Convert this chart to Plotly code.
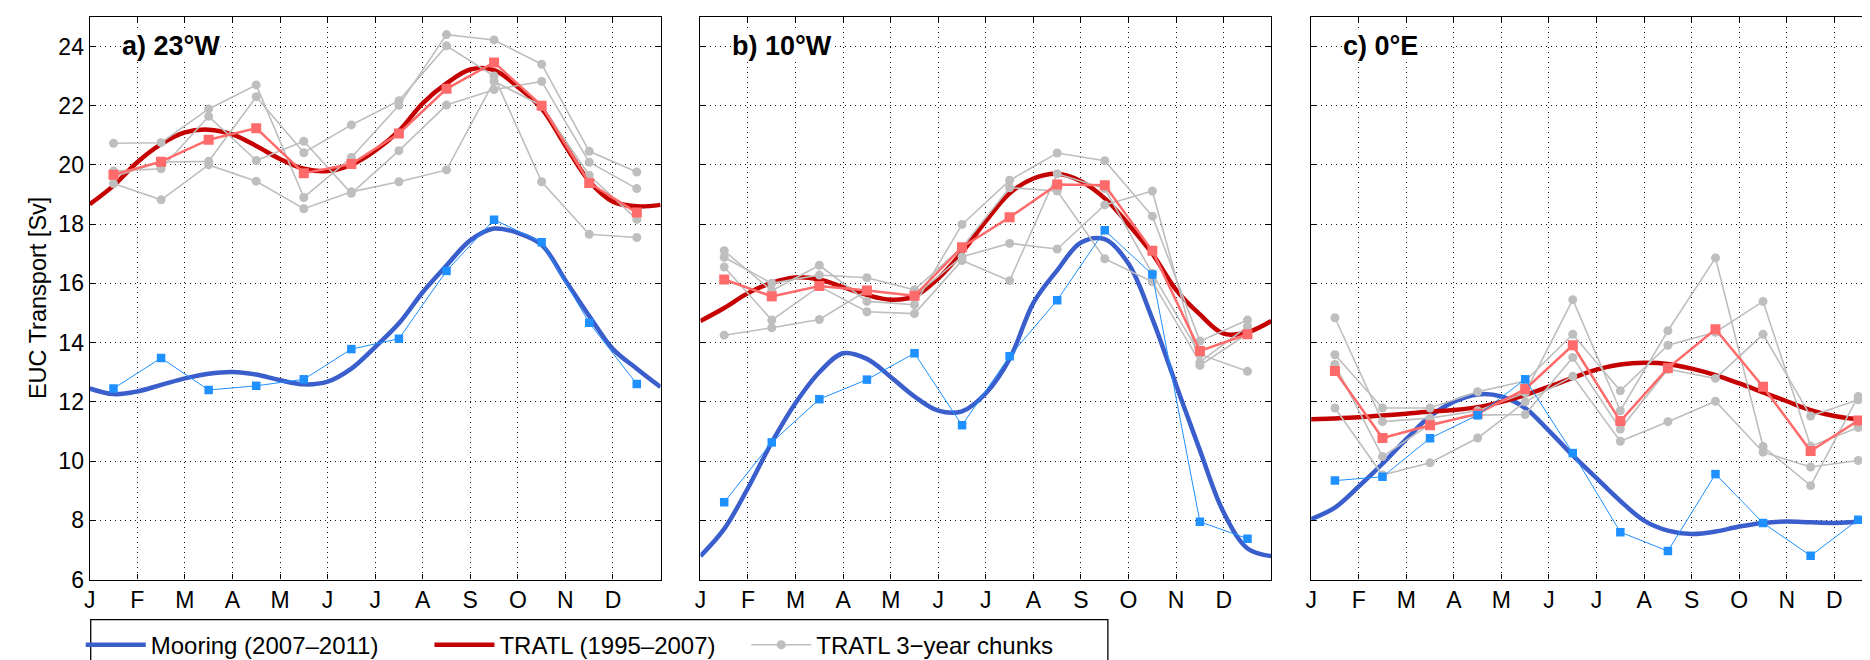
import plotly.graph_objects as go

# ---------------- data ----------------
month_labels = ["J", "F", "M", "A", "M", "J", "J", "A", "S", "O", "N", "D"]
month_ticks = list(range(12))
mid_month = [i + 0.5 for i in range(12)]
fit_time = [i * 0.5 for i in range(25)]

panel_titles = ["a) 23°W", "b) 10°W", "c) 0°E"]

# Panel a (23W)
a_mooring = [12.45, 13.48, 12.40, 12.54, 12.76, 13.78, 14.13, 16.42, 18.15, 17.39, 14.67, 12.60]
a_tratl = [19.67, 20.11, 20.85, 21.24, 19.72, 20.03, 21.06, 22.57, 23.46, 22.00, 19.39, 18.39]
a_mooring_fit = [12.45, 12.26, 12.35, 12.57, 12.79, 12.95, 13.01, 12.92, 12.73, 12.59, 12.68, 13.12,
                 13.85, 14.65, 15.70, 16.60, 17.45, 17.85, 17.70, 17.30, 16.10, 14.90, 13.78, 13.12, 12.50]
a_tratl_fit = [18.67, 19.30, 20.09, 20.70, 21.10, 21.19, 21.03, 20.64, 20.20, 19.87, 19.79, 20.00,
               20.48, 21.15, 22.08, 22.75, 23.22, 23.20, 22.63, 21.90, 20.65, 19.45, 18.76, 18.60, 18.65]
a_chunk1 = [20.73, 20.75, 21.89, 22.70, 18.90, 20.25, 22.01, 24.40, 24.22, 23.40, 20.46, 19.76]
a_chunk2 = [19.79, 19.87, 21.64, 20.15, 20.80, 19.04, 20.48, 22.02, 22.54, 22.82, 20.09, 19.20]
a_chunk3 = [19.37, 18.82, 20.00, 19.45, 18.52, 19.09, 19.43, 19.83, 22.82, 22.00, 19.65, 18.16]
a_chunk4 = [19.60, 20.10, 20.12, 22.30, 20.41, 21.35, 22.17, 24.02, 23.00, 19.43, 17.66, 17.55]

# Panel b (10W)
b_mooring = [8.61, 10.63, 12.09, 12.75, 13.64, 11.21, 13.54, 15.43, 17.79, 16.30, 7.95, 7.38]
b_tratl = [16.13, 15.56, 15.91, 15.76, 15.58, 17.22, 18.23, 19.34, 19.31, 17.10, 13.72, 14.28]
b_mooring_fit = [6.79, 7.71, 9.09, 10.63, 11.96, 13.00, 13.64, 13.45, 12.84, 12.18, 11.70, 11.68,
                 12.29, 13.45, 15.34, 16.44, 17.38, 17.49, 16.66, 14.80, 12.57, 10.36, 8.26, 7.05, 6.79]
b_tratl_fit = [14.73, 15.17, 15.67, 16.02, 16.20, 16.13, 15.87, 15.61, 15.45, 15.56, 16.17, 17.05,
               18.10, 19.04, 19.54, 19.70, 19.45, 18.87, 17.99, 17.00, 15.78, 14.95, 14.30, 14.35, 14.73]
b_chunk1 = [17.10, 15.75, 16.61, 15.39, 15.28, 17.99, 19.48, 20.40, 20.14, 18.27, 14.05, 14.76]
b_chunk2 = [16.88, 16.00, 16.28, 16.19, 15.78, 17.22, 19.23, 19.12, 16.83, 16.05, 13.34, 14.55]
b_chunk3 = [16.55, 14.76, 15.90, 15.04, 14.98, 16.77, 16.09, 19.70, 19.20, 16.33, 13.60, 13.03]
b_chunk4 = [14.25, 14.50, 14.78, 15.76, 15.58, 16.90, 17.35, 17.16, 18.65, 19.12, 13.23, 14.30]

# Panel c (0E)
c_mooring = [9.34, 9.47, 10.77, 11.55, 12.76, 10.27, 7.60, 6.96, 9.56, 7.91, 6.80, 8.02]
c_tratl = [13.04, 10.78, 11.21, 11.60, 12.43, 13.91, 11.35, 13.14, 14.45, 12.51, 10.34, 11.37]
c_mooring_fit = [8.04, 8.43, 9.14, 9.91, 10.74, 11.51, 12.00, 12.25, 12.18, 11.79, 11.02, 10.19,
                 9.42, 8.65, 7.99, 7.65, 7.54, 7.62, 7.79, 7.91, 7.96, 7.93, 7.91, 7.95, 8.04]
c_tratl_fit = [11.41, 11.44, 11.48, 11.54, 11.60, 11.67, 11.72, 11.82, 12.00, 12.23, 12.51, 12.81,
               13.09, 13.26, 13.32, 13.28, 13.12, 12.90, 12.62, 12.32, 12.02, 11.72, 11.52, 11.41, 11.41]
c_chunk1 = [14.84, 11.33, 11.45, 11.70, 12.30, 15.45, 11.70, 14.40, 16.86, 10.49, 9.17, 12.18]
c_chunk2 = [13.59, 11.79, 11.79, 12.34, 12.70, 14.28, 12.37, 13.91, 14.35, 15.39, 10.50, 11.13]
c_chunk3 = [13.26, 10.15, 11.25, 11.55, 11.57, 13.50, 11.08, 13.10, 12.79, 14.28, 11.52, 12.07]
c_chunk4 = [11.79, 9.53, 9.94, 10.78, 12.00, 12.86, 10.67, 11.33, 12.02, 10.30, 9.80, 10.02]

panels = [
    (a_mooring, a_tratl, a_mooring_fit, a_tratl_fit, [a_chunk1, a_chunk2, a_chunk3, a_chunk4]),
    (b_mooring, b_tratl, b_mooring_fit, b_tratl_fit, [b_chunk1, b_chunk2, b_chunk3, b_chunk4]),
    (c_mooring, c_tratl, c_mooring_fit, c_tratl_fit, [c_chunk1, c_chunk2, c_chunk3, c_chunk4]),
]

# ---------------- styling / layout ----------------
W, H = 1870, 660
FONT = "Liberation Sans, Arial, Helvetica, sans-serif"
MOOR_FIT = "#3a5fcd"
TRATL_FIT = "#c40000"
TRATL_PTS = "#ff6a6a"
MOOR_PTS = "#1e90ff"
CHUNK = "#bebebe"

px_left = [76, 689, 1302]
px_width = 573
plot_top, plot_bottom = 9, 583
month_px = px_width / 12.0

fig = go.Figure()

for k, (moor, tratl, moor_fit, tratl_fit, chunks) in enumerate(panels):
    xa = "x" if k == 0 else f"x{k+1}"
    ya = "y" if k == 0 else f"y{k+1}"
    first = (k == 0)
    fig.add_trace(go.Scatter(x=fit_time, y=moor_fit, mode="lines", xaxis=xa, yaxis=ya,
                             line=dict(color=MOOR_FIT, width=4.5, shape="spline", smoothing=1.0),
                             name="Mooring (2007\u20132011)", showlegend=first, legend="legend"))
    fig.add_trace(go.Scatter(x=fit_time, y=tratl_fit, mode="lines", xaxis=xa, yaxis=ya,
                             line=dict(color=TRATL_FIT, width=4.5, shape="spline", smoothing=1.0),
                             name="TRATL (1995\u20132007)", showlegend=first, legend="legend2"))
    for j, ch in enumerate(chunks):
        fig.add_trace(go.Scatter(x=mid_month, y=ch, mode="lines+markers", xaxis=xa, yaxis=ya,
                                 line=dict(color=CHUNK, width=1.6),
                                 marker=dict(symbol="circle", size=9, color=CHUNK),
                                 name="TRATL 3\u2212year chunks", showlegend=(first and j == 0),
                                 legend="legend3"))
    fig.add_trace(go.Scatter(x=mid_month, y=tratl, mode="lines+markers", xaxis=xa, yaxis=ya,
                             line=dict(color=TRATL_PTS, width=2.5),
                             marker=dict(symbol="square", size=10, color=TRATL_PTS),
                             showlegend=False))
    fig.add_trace(go.Scatter(x=mid_month, y=moor, mode="lines+markers", xaxis=xa, yaxis=ya,
                             line=dict(color=MOOR_PTS, width=1),
                             marker=dict(symbol="square", size=8.5, color=MOOR_PTS),
                             showlegend=False))

axis_common = dict(showline=True, linecolor="black", linewidth=1.3, mirror="ticks",
                   ticks="inside", ticklen=5, tickwidth=1, tickcolor="black",
                   showgrid=True, gridcolor="#111111", gridwidth=1, griddash="1px,4px",
                   zeroline=False, tickfont=dict(family=FONT, size=23, color="black"))

for k in range(3):
    x0 = px_left[k] / W
    if k < 2:
        x1 = (px_left[k] + px_width) / W
        xr = [0, 12]
    else:
        x1 = 1.0
        xr = [0, (W - px_left[k]) / month_px]
    xkey = "xaxis" if k == 0 else f"xaxis{k+1}"
    ykey = "yaxis" if k == 0 else f"yaxis{k+1}"
    xa = "x" if k == 0 else f"x{k+1}"
    ya = "y" if k == 0 else f"y{k+1}"
    fig.layout[xkey] = dict(axis_common, domain=[x0, x1], range=xr, anchor=ya,
                            tickmode="array", tickvals=month_ticks, ticktext=month_labels)
    fig.layout[ykey] = dict(axis_common, domain=[1 - plot_bottom / H, 1 - plot_top / H], range=[6, 25],
                            anchor=xa, tickmode="array", tickvals=list(range(6, 25, 2)),
                            showticklabels=(k == 0))
    fig.add_annotation(x=0.65, y=24, xref=xa, yref=ya, xanchor="left", yanchor="middle",
                       text=f"<b>{panel_titles[k]}</b>", showarrow=False, bgcolor="white",
                       borderpad=0, font=dict(family=FONT, size=27, color="black"))

fig.add_annotation(x=24 / W, y=1 - 296 / H, xref="paper", yref="paper", text="EUC Transport [Sv]",
                   textangle=-90, showarrow=False, xanchor="center", yanchor="middle",
                   font=dict(family=FONT, size=23.5, color="black"))

# legend frame
fig.add_shape(type="rect", xref="paper", yref="paper", x0=77 / W, x1=1098 / W,
              y0=1 - 624 / H, y1=-0.2, line=dict(color="black", width=1.3), fillcolor="white",
              layer="below")

leg_common = dict(orientation="h", bgcolor="rgba(0,0,0,0)", borderwidth=0, xanchor="left",
                  yanchor="top", itemwidth=60, font=dict(family=FONT, size=24, color="black"))
fig.update_layout(
    legend=dict(leg_common, x=67 / W, y=1 - 627 / H),
    legend2=dict(leg_common, x=417 / W, y=1 - 627 / H),
    legend3=dict(leg_common, x=735 / W, y=1 - 627 / H),
)

fig.update_layout(width=W, height=H, margin=dict(l=0, r=0, t=0, b=0),
                  paper_bgcolor="white", plot_bgcolor="white",
                  font=dict(family=FONT, size=23, color="black"))

fig.write_html("out.html")
